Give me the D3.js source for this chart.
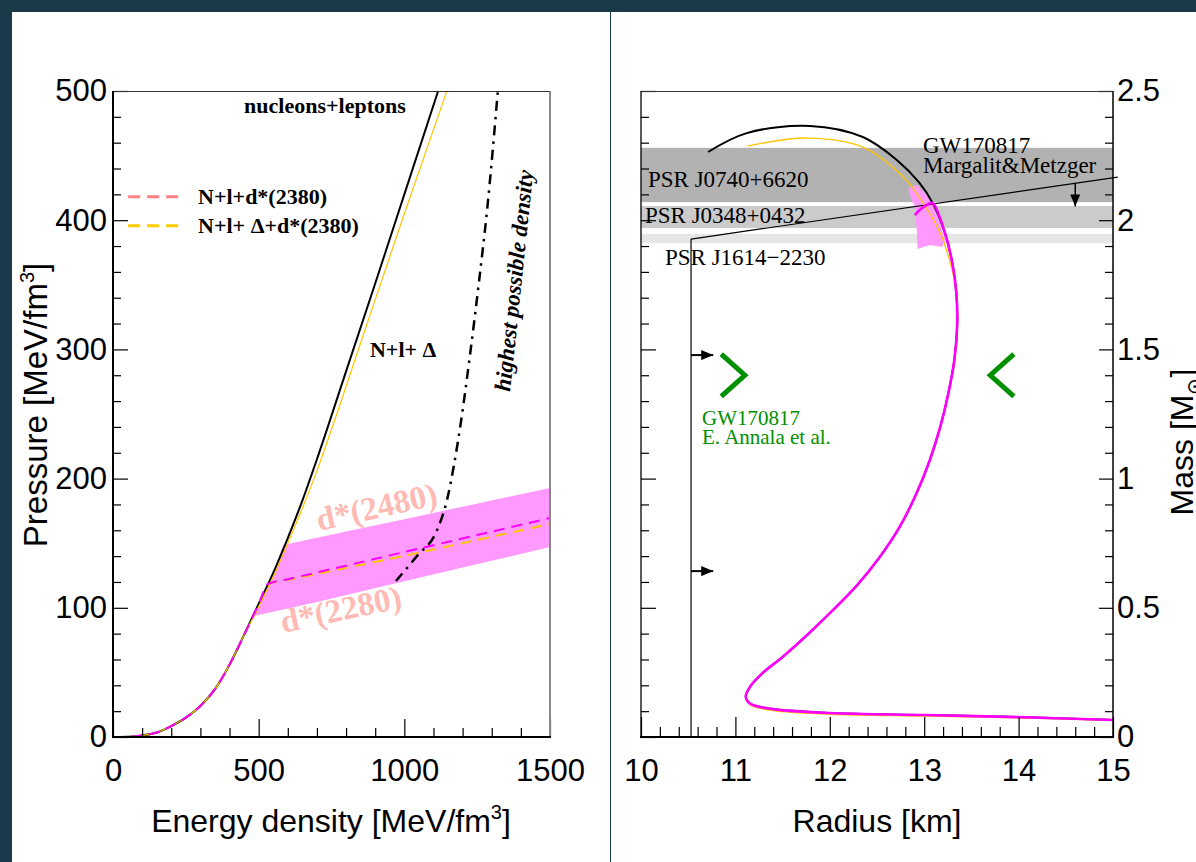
<!DOCTYPE html>
<html>
<head>
<meta charset="utf-8">
<script src="https://cdn.jsdelivr.net/npm/d3@7"></script>
<style>
  body { margin: 0; background: #fff; }
  svg { display: block; }
</style>
</head>
<body>
<svg id="chart" width="1196" height="862"></svg>
<script>
// ---------- Equation of state (left panel): energy density [MeV/fm^3] vs pressure [MeV/fm^3] ----------
// nucleons + leptons
const nlEnergy   = [0, 50, 100, 150, 200, 250, 300, 350, 400, 450, 500, 550, 600, 650, 700, 800, 900, 1000, 1116];
const nlPressure = [0, 0.1, 1.2, 3.5, 8.5, 15, 24, 37, 56, 79, 103, 127, 154, 183, 215, 283, 351, 420, 500];
// N + l + Delta
const ndEnergy   = [0, 50, 100, 150, 200, 250, 300, 350, 400, 450, 500, 550, 600, 650, 700, 750, 850, 1000, 1146];
const ndPressure = [0, 0.1, 1.2, 3.5, 8.5, 15, 24, 37, 56, 79, 101, 124, 150, 177, 206, 238, 305, 405, 500];
// N + l + d*(2380)
const dsEnergy   = [0, 50, 100, 150, 200, 250, 300, 350, 400, 450, 500, 532, 600, 800, 1000, 1250, 1500];
const dsPressure = [0, 0.1, 1.2, 3.5, 8.5, 15, 24, 37, 56, 79, 103, 118.5, 122.1, 132.6, 143.2, 156.3, 169.5];
// N + l + Delta + d*(2380)
const ddsEnergy   = [0, 50, 100, 150, 200, 250, 300, 350, 400, 450, 500, 540, 600, 800, 1000, 1250, 1500];
const ddsPressure = [0, 0.1, 1.2, 3.5, 8.5, 15, 24, 37, 56, 79, 101, 119, 121.6, 130.9, 140.2, 152.5, 164.9];
// d* mass range band: d*(2480) upper edge, d*(2280) lower edge, onset edge along the EOS
const bandUpperE = [584, 800, 1000, 1200, 1500];
const bandUpperP = [148.6, 159, 168.6, 178.3, 192.7];
const bandLowerE = [481, 700, 1000, 1200, 1500];
const bandLowerP = [93.5, 104.5, 120.5, 131.1, 147];
const bandOnsetE = [481, 515, 550, 584];
const bandOnsetP = [93.5, 110.5, 127.5, 148.6];
// highest possible density
const limitE = [971, 1043, 1112, 1146, 1170, 1195, 1225, 1255, 1285, 1321];
const limitP = [120.7, 140, 160, 183, 210, 245, 295, 350, 410, 500];

const energyTicks = [0, 500, 1000, 1500];
const pressureTicks = [0, 100, 200, 300, 400, 500];

// ---------- Mass-radius relation (right panel): radius [km], mass [M_sun] ----------
const mrNlRadius = [15.0, 14.0, 13.0, 12.0, 11.4, 11.16, 11.11, 11.16, 11.29, 11.5, 11.76, 12.03, 12.29, 12.53,
                    12.74, 12.92, 13.06, 13.17, 13.25, 13.32, 13.35, 13.34, 13.30, 13.22, 13.09, 12.95, 12.71,
                    12.35, 11.79, 11.12, 10.71];
const mrNlMass   = [0.066, 0.077, 0.085, 0.093, 0.108, 0.128, 0.155, 0.197, 0.248, 0.31, 0.395, 0.49, 0.588, 0.697,
                    0.813, 0.944, 1.072, 1.2, 1.32, 1.46, 1.6, 1.72, 1.83, 1.95, 2.066, 2.144, 2.233,
                    2.322, 2.365, 2.337, 2.264];
const mrNdRadius = [15.0, 14.0, 13.0, 12.0, 11.4, 11.16, 11.11, 11.16, 11.29, 11.5, 11.76, 12.03, 12.29, 12.53,
                    12.74, 12.92, 13.06, 13.17, 13.25, 13.32, 13.35, 13.34, 13.28, 13.17, 12.99, 12.78, 12.35,
                    11.76, 11.13];
const mrNdMass   = [0.064, 0.074, 0.081, 0.088, 0.102, 0.124, 0.155, 0.197, 0.248, 0.31, 0.395, 0.49, 0.588, 0.697,
                    0.813, 0.944, 1.072, 1.2, 1.32, 1.46, 1.6, 1.72, 1.83, 1.95, 2.066, 2.167, 2.283,
                    2.318, 2.287];
const mrDsRadius = [15.0, 14.0, 13.0, 12.0, 11.4, 11.16, 11.11, 11.16, 11.29, 11.5, 11.76, 12.03, 12.29, 12.53,
                    12.74, 12.92, 13.06, 13.17, 13.25, 13.32, 13.35, 13.34, 13.30, 13.22, 13.09, 13.04, 12.97, 12.90];
const mrDsMass   = [0.066, 0.077, 0.085, 0.093, 0.108, 0.128, 0.155, 0.197, 0.248, 0.31, 0.395, 0.49, 0.588, 0.697,
                    0.813, 0.944, 1.072, 1.2, 1.32, 1.46, 1.6, 1.72, 1.83, 1.95, 2.066, 2.062, 2.045, 2.02];
// d* mass range region near the maximum mass
const dsRegionR = [12.83, 12.92, 13.08, 13.22, 13.19, 13.06, 12.93, 12.92, 12.90, 12.85];
const dsRegionM = [2.125, 2.136, 2.078, 1.923, 1.896, 1.904, 1.889, 1.974, 2.051, 2.098];

// pulsar mass measurements
const pulsarNames = ["PSR J0740+6620", "PSR J0348+0432", "PSR J1614\u22122230"];
const pulsarLow   = [2.07, 1.97, 1.911];
const pulsarHigh  = [2.28, 2.055, 1.947];

// GW170817 constraints
const mmRadius = [10.53, 15.05];        // Margalit & Metzger upper bound
const mmMass   = [1.927, 2.167];
const lowerBoundRadius = 10.53;         // minimum radius
const lowerBoundArrowM = [1.478, 0.642];
const upperBoundArrowR = 14.6;
const annalaRadius = [11.1, 13.7];      // R(1.4 M_sun) range, E. Annala et al.
const annalaMass = 1.4;

const radiusTicks = [10, 11, 12, 13, 14, 15];
const massTicks = [0, 0.5, 1, 1.5, 2, 2.5];

// ---------- drawing ----------
const W = 1196, H = 862;
const sans = "'Liberation Sans', Arial, Helvetica, sans-serif";
const serif = "'Liberation Serif', 'Times New Roman', serif";
const svg = d3.select("#chart");

svg.append("rect").attr("width", W).attr("height", H).attr("fill", "#1a3a4a");
svg.append("rect").attr("x", 12).attr("y", 12).attr("width", W - 12).attr("height", H - 12).attr("fill", "#fff");
svg.append("line").attr("x1", 610.5).attr("x2", 610.5).attr("y1", 12).attr("y2", H)
  .attr("stroke", "#1a3a4a").attr("stroke-width", 1);

const defs = svg.append("defs");
defs.append("marker").attr("id", "head").attr("markerUnits", "userSpaceOnUse")
  .attr("viewBox", "0 0 12 10").attr("markerWidth", 12).attr("markerHeight", 10)
  .attr("refX", 12).attr("refY", 5).attr("orient", "auto")
  .append("path").attr("d", "M0,0 L12,5 L0,10 Z").attr("fill", "#000");

const zip = (a, b) => a.map((v, i) => [v, b[i]]);

function styleAxis(g, fontSize) {
  g.select(".domain").remove();
  g.selectAll(".tick line").attr("stroke", "#000").attr("stroke-width", 1.2);
  g.selectAll("text").attr("font-family", sans).attr("font-size", fontSize).attr("fill", "#000");
}
function range(a, b, step) {
  const out = [];
  for (let i = 0; a + i * step <= b + 1e-9; i++) out.push(+(a + i * step).toFixed(4));
  return out;
}

// ===== Left panel =====
const xE = d3.scaleLinear().domain([0, 1500]).range([113, 550]);
const yP = d3.scaleLinear().domain([0, 500]).range([737, 91]);
const left = svg.append("g");

const bandPts = [
  ...zip(bandLowerE, bandLowerP),
  ...zip(bandUpperE, bandUpperP).reverse(),
  ...zip(bandOnsetE, bandOnsetP).reverse()
];
left.append("path")
  .attr("d", d3.line().x(d => xE(d[0])).y(d => yP(d[1]))(bandPts) + "Z")
  .attr("fill", "#ff99ff").attr("stroke", "none");

const lineE = d3.line().x(d => xE(d[0])).y(d => yP(d[1])).curve(d3.curveMonotoneX);

left.append("path").attr("d", lineE(zip(ddsEnergy, ddsPressure)))
  .attr("fill", "none").attr("stroke", "#ffc400").attr("stroke-width", 2).attr("stroke-dasharray", "11,7");
left.append("path").attr("d", lineE(zip(nlEnergy, nlPressure)))
  .attr("fill", "none").attr("stroke", "#000").attr("stroke-width", 2);
left.append("path").attr("d", lineE(zip(ndEnergy, ndPressure)))
  .attr("fill", "none").attr("stroke", "#ffc400").attr("stroke-width", 1.2);
left.append("path").attr("d", lineE(zip(dsEnergy, dsPressure)))
  .attr("fill", "none").attr("stroke", "#ff00ff").attr("stroke-width", 2).attr("stroke-dasharray", "11,7");
left.append("path").attr("d", lineE(zip(limitE, limitP)))
  .attr("fill", "none").attr("stroke", "#000").attr("stroke-width", 2.5).attr("stroke-dasharray", "10,6,2.5,6");

// labels
const boldSerif = (g, x, y, txt, size, color) =>
  g.append("text").attr("x", x).attr("y", y).attr("font-family", serif).attr("font-weight", "bold")
    .attr("font-size", size).attr("fill", color || "#000").text(txt);

boldSerif(left, xE(450), yP(483), "nucleons+leptons", 22);
boldSerif(left, xE(882), yP(294), "N+l+ \u0394", 22);

// legend
const legendItems = [
  { label: "N+l+d*(2380)", color: "#ff8080", p: 418.2 },
  { label: "N+l+ \u0394+d*(2380)", color: "#ffcc00", p: 395.7 }
];
legendItems.forEach(it => {
  left.append("line").attr("x1", xE(52)).attr("x2", xE(240)).attr("y1", yP(it.p)).attr("y2", yP(it.p))
    .attr("stroke", it.color).attr("stroke-width", 3).attr("stroke-dasharray", "12,7");
  boldSerif(left, xE(292), yP(it.p) + 7, it.label, 22);
});

// d* band labels
left.append("text").attr("transform", `translate(${xE(707)},${yP(159.4)}) rotate(-12.5)`)
  .attr("font-family", serif).attr("font-weight", "bold").attr("font-size", 33).attr("fill", "#ffbab4")
  .text("d*(2480)");
left.append("text").attr("transform", `translate(${xE(583.5)},${yP(80.5)}) rotate(-12)`)
  .attr("font-family", serif).attr("font-weight", "bold").attr("font-size", 33).attr("fill", "#ffbab4")
  .text("d*(2280)");
left.append("text").attr("transform", `translate(${xE(1363)},${yP(267)}) rotate(-84)`)
  .attr("font-family", serif).attr("font-weight", "bold").attr("font-style", "italic")
  .attr("font-size", 23).attr("fill", "#000").text("highest possible density");

// axes
const leftMinorX = range(0, 1500, 100).filter(v => v % 500 !== 0);
const leftMinorY = range(0, 500, 20).filter(v => v % 100 !== 0);
left.append("g").attr("transform", "translate(0,737)")
  .call(d3.axisBottom(xE).tickValues(leftMinorX).tickSize(-9).tickFormat(""))
  .call(g => styleAxis(g, 31));
left.append("g").attr("transform", "translate(0,737)")
  .call(d3.axisBottom(xE).tickValues(energyTicks).tickSize(-18).tickPadding(22).tickFormat(d3.format("d")))
  .call(g => styleAxis(g, 31));
left.append("g").attr("transform", "translate(113,0)")
  .call(d3.axisLeft(yP).tickValues(leftMinorY).tickSize(-8).tickFormat(""))
  .call(g => styleAxis(g, 31));
left.append("g").attr("transform", "translate(113,0)")
  .call(d3.axisLeft(yP).tickValues(pressureTicks).tickSize(-15).tickPadding(6).tickFormat(d3.format("d")))
  .call(g => styleAxis(g, 31));

// frame
left.append("line").attr("x1", 113).attr("x2", 550).attr("y1", 91.5).attr("y2", 91.5).attr("stroke", "#333").attr("stroke-width", 1);
left.append("line").attr("x1", 550).attr("x2", 550).attr("y1", 91).attr("y2", 737).attr("stroke", "#888").attr("stroke-width", 2);
left.append("line").attr("x1", 113).attr("x2", 113).attr("y1", 91).attr("y2", 738).attr("stroke", "#000").attr("stroke-width", 2);
left.append("line").attr("x1", 112).attr("x2", 551).attr("y1", 737).attr("y2", 737).attr("stroke", "#000").attr("stroke-width", 2);

// titles
const xt = left.append("text").attr("x", 331).attr("y", 832).attr("text-anchor", "middle")
  .attr("font-family", sans).attr("font-size", 32).attr("fill", "#000");
xt.append("tspan").text("Energy density [MeV/fm");
xt.append("tspan").attr("font-size", 20).attr("dy", -13).text("3");
xt.append("tspan").attr("dy", 13).text("]");
const yt = left.append("text").attr("transform", "translate(47,405) rotate(-90)").attr("text-anchor", "middle")
  .attr("font-family", sans).attr("font-size", 33).attr("fill", "#000");
yt.append("tspan").text("Pressure [MeV/fm");
yt.append("tspan").attr("font-size", 20).attr("dy", -13).text("3");
yt.append("tspan").attr("dy", 13).text("]");

// ===== Right panel =====
const xR = d3.scaleLinear().domain([10, 15]).range([641, 1113]);
const yM = d3.scaleLinear().domain([0, 2.5]).range([737, 91]);
const right = svg.append("g");
const bandColors = ["#b2b2b2", "#cbcbcb", "#e6e6e6"];

pulsarNames.forEach((n, i) => {
  right.append("rect").attr("x", xR(10)).attr("width", xR(15) - xR(10))
    .attr("y", yM(pulsarHigh[i])).attr("height", yM(pulsarLow[i]) - yM(pulsarHigh[i]))
    .attr("fill", bandColors[i]);
});

const lineR = d3.line().x(d => xR(d[0])).y(d => yM(d[1]));
right.append("path").attr("d", lineR(zip(dsRegionR, dsRegionM)) + "Z").attr("fill", "#ff99ff");

// GW170817 bounds
right.append("line").attr("x1", xR(lowerBoundRadius)).attr("x2", xR(lowerBoundRadius))
  .attr("y1", yM(0)).attr("y2", yM(mmMass[0])).attr("stroke", "#000").attr("stroke-width", 1.2);
right.append("path").attr("d", lineR(zip(mmRadius, mmMass))).attr("stroke", "#000").attr("stroke-width", 1.2).attr("fill", "none");
lowerBoundArrowM.forEach(m => {
  right.append("line").attr("x1", xR(lowerBoundRadius)).attr("x2", xR(lowerBoundRadius + 0.235))
    .attr("y1", yM(m)).attr("y2", yM(m)).attr("stroke", "#000").attr("stroke-width", 2).attr("marker-end", "url(#head)");
});
const mmAt = mmMass[0] + (upperBoundArrowR - mmRadius[0]) / (mmRadius[1] - mmRadius[0]) * (mmMass[1] - mmMass[0]);
right.append("line").attr("x1", xR(upperBoundArrowR)).attr("x2", xR(upperBoundArrowR))
  .attr("y1", yM(mmAt)).attr("y2", yM(mmAt - 0.09)).attr("stroke", "#000").attr("stroke-width", 1.5).attr("marker-end", "url(#head)");

// mass-radius curves
const curveR = d3.line().x(d => xR(d[0])).y(d => yM(d[1])).curve(d3.curveCatmullRom.alpha(0.5));
right.append("path").attr("d", curveR(zip(mrNlRadius, mrNlMass))).attr("fill", "none").attr("stroke", "#000").attr("stroke-width", 2);
right.append("path").attr("d", curveR(zip(mrNdRadius, mrNdMass))).attr("fill", "none").attr("stroke", "#ffc400").attr("stroke-width", 1.3);
right.append("path").attr("d", curveR(zip(mrDsRadius, mrDsMass))).attr("fill", "none").attr("stroke", "#ff00ff").attr("stroke-width", 2.6);

// R(1.4) chevrons
const chevW = 0.25, chevH = 0.082;
right.append("path")
  .attr("d", d3.line()([[xR(annalaRadius[0] - chevW), yM(annalaMass + chevH)], [xR(annalaRadius[0]), yM(annalaMass)], [xR(annalaRadius[0] - chevW), yM(annalaMass - chevH)]]))
  .attr("fill", "none").attr("stroke", "#009000").attr("stroke-width", 5);
right.append("path")
  .attr("d", d3.line()([[xR(annalaRadius[1] + chevW), yM(annalaMass + chevH)], [xR(annalaRadius[1]), yM(annalaMass)], [xR(annalaRadius[1] + chevW), yM(annalaMass - chevH)]]))
  .attr("fill", "none").attr("stroke", "#009000").attr("stroke-width", 5);

// texts
const serifText = (x, y, txt, size, color) =>
  right.append("text").attr("x", x).attr("y", y).attr("font-family", serif)
    .attr("font-size", size).attr("fill", color || "#000").text(txt);
serifText(xR(10.074), yM(2.128), pulsarNames[0], 23);
serifText(xR(10.042), yM(1.989), pulsarNames[1], 23);
serifText(xR(10.254), yM(1.827), pulsarNames[2], 23);
serifText(xR(12.987), yM(2.26), "GW170817", 23);
serifText(xR(12.987), yM(2.183), "Margalit&Metzger", 23);
serifText(xR(10.646), yM(1.207), "GW170817", 21, "#009000");
serifText(xR(10.646), yM(1.134), "E. Annala et al.", 21, "#009000");

// axes
const rMinorX = range(10, 15, 0.2).filter(v => Math.abs(v - Math.round(v)) > 1e-6);
const rMinorY = range(0, 2.5, 0.1).filter(v => Math.abs(v * 2 - Math.round(v * 2)) > 1e-6);
right.append("g").attr("transform", "translate(0,737)")
  .call(d3.axisBottom(xR).tickValues(rMinorX).tickSize(-10).tickFormat(""))
  .call(g => styleAxis(g, 31));
right.append("g").attr("transform", "translate(0,737)")
  .call(d3.axisBottom(xR).tickValues(radiusTicks).tickSize(-20).tickPadding(22).tickFormat(d3.format("d")))
  .call(g => styleAxis(g, 31));
right.append("g").attr("transform", "translate(641,0)")
  .call(d3.axisLeft(yM).tickValues(rMinorY).tickSize(-8).tickFormat(""))
  .call(g => styleAxis(g, 31));
right.append("g").attr("transform", "translate(641,0)")
  .call(d3.axisLeft(yM).tickValues(massTicks).tickSize(-15).tickFormat(""))
  .call(g => styleAxis(g, 31));
right.append("g").attr("transform", "translate(1113,0)")
  .call(d3.axisRight(yM).tickValues(rMinorY).tickSize(-8).tickFormat(""))
  .call(g => styleAxis(g, 31));
right.append("g").attr("transform", "translate(1113,0)")
  .call(d3.axisRight(yM).tickValues(massTicks).tickSize(-14).tickPadding(4).tickFormat(d3.format("~g")))
  .call(g => styleAxis(g, 31));

// frame
right.append("line").attr("x1", 641).attr("x2", 1113).attr("y1", 91.5).attr("y2", 91.5).attr("stroke", "#333").attr("stroke-width", 1);
right.append("line").attr("x1", 641).attr("x2", 641).attr("y1", 91).attr("y2", 737).attr("stroke", "#000").attr("stroke-width", 1.3);
right.append("line").attr("x1", 1113).attr("x2", 1113).attr("y1", 91).attr("y2", 738).attr("stroke", "#000").attr("stroke-width", 1.5);
right.append("line").attr("x1", 640).attr("x2", 1114).attr("y1", 737).attr("y2", 737).attr("stroke", "#000").attr("stroke-width", 2);

// titles
right.append("text").attr("x", 877).attr("y", 832).attr("text-anchor", "middle")
  .attr("font-family", sans).attr("font-size", 32).attr("fill", "#000").text("Radius [km]");
const mt = right.append("text").attr("transform", "translate(1193,442) rotate(-90)").attr("text-anchor", "middle")
  .attr("font-family", sans).attr("font-size", 32).attr("fill", "#000");
mt.append("tspan").text("Mass [M");
mt.append("tspan").attr("font-size", 20).attr("dy", 8).text("\u2299");
mt.append("tspan").attr("dy", -8).text("]");
</script>
</body>
</html>
